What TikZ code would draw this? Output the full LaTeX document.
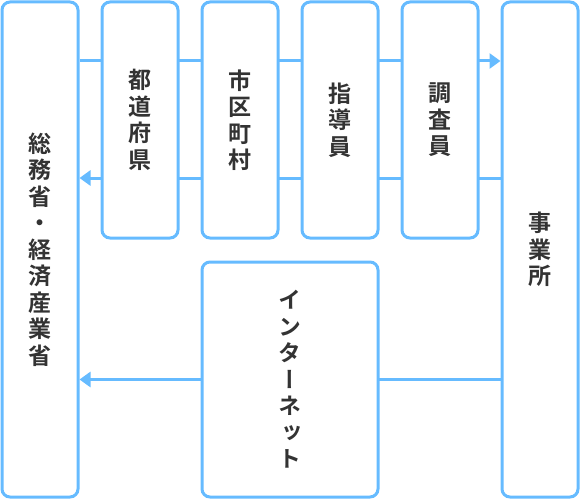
\documentclass[tikz,border=0pt]{standalone}
\usepackage{fontspec}
\newfontfamily\jpfont[RawFeature=+vert,BoldFont={Noto Sans CJK JP Bold}]{Noto Sans CJK JP}
\usetikzlibrary{positioning}
\usetikzlibrary{arrows.meta,backgrounds}

\definecolor{flowblue}{HTML}{66BBFF}
\definecolor{textgray}{HTML}{333333}

\tikzset{
  box/.style={draw=flowblue,line width=3pt,fill=white,rounded corners=8pt,
    minimum width=76pt,text=textgray,align=center,inner sep=0pt,
    font={\jpfont\bfseries\fontsize{23}{26.5}\selectfont}},
  flow/.style={draw=flowblue,line width=3pt,-{Triangle[length=11pt,width=15pt]}},
}

\begin{document}
\begin{tikzpicture}[x=1pt,y=-1pt]
\useasboundingbox (0,0) rectangle (580,500);
\node[box,minimum height=495pt] (gov) at (40,249.5) {総\\務\\省\\・\\経\\済\\産\\業\\省};
\node[box,minimum height=236pt,right=21pt of gov.north east,anchor=north west] (pref) {都\\道\\府\\県};
\node[box,minimum height=236pt,right=21pt of pref.north east,anchor=north west] (city) {市\\区\\町\\村};
\node[box,minimum height=236pt,right=21pt of city.north east,anchor=north west] (guide) {指\\導\\員};
\node[box,minimum height=236pt,right=21pt of guide.north east,anchor=north west] (survey) {調\\査\\員};
\node[box,minimum height=495pt,right=21pt of survey.north east,anchor=north west] (office) {事\\業\\所};
\node[box,minimum width=176pt,minimum height=235pt,below=21pt of city.south west,anchor=north west] (net) {イ\\ン\\タ\\ー\\ネ\\ッ\\ト};

\coordinate (upper) at (0,61);
\coordinate (lower) at (0,178);
\begin{scope}[on background layer]
\draw[flow] (gov.east |- upper) -- (office.west |- upper);
\draw[flow] (office.west |- lower) -- (gov.east |- lower);
\draw[flow] (office.west |- net) -- (gov.east |- net);
\end{scope}
\end{tikzpicture}
\end{document}
